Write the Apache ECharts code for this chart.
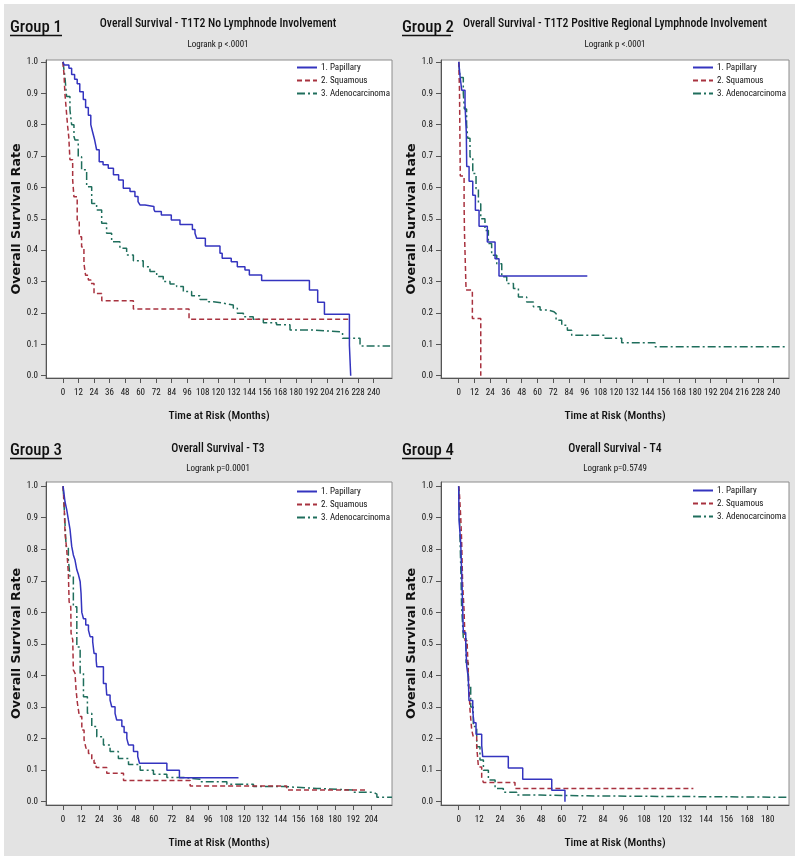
<!DOCTYPE html>
<html><head><meta charset="utf-8">
<script src="https://cdn.jsdelivr.net/npm/echarts@6/dist/echarts.min.js"></script>
<style>html,body{margin:0;padding:0;background:#fff}#c{width:800px;height:862px}</style>
</head><body><div id="c"></div>
<script>
// ---------------- DATA ----------------
const seriesNames = ['1. Papillary', '2. Squamous', '3. Adenocarcinoma'];
const groupLabels = ['Group 1', 'Group 2', 'Group 3', 'Group 4'];
const titles = [
  'Overall Survival - T1T2 No Lymphnode Involvement',
  'Overall Survival - T1T2 Positive Regional Lymphnode Involvement',
  'Overall Survival - T3',
  'Overall Survival - T4'
];
const subtitles = ['Logrank p <.0001', 'Logrank p <.0001', 'Logrank p=0.0001', 'Logrank p=0.5749'];
const xAxisTitle = 'Time at Risk (Months)';
const yAxisTitle = 'Overall Survival Rate';

const xTicks1 = [0,12,24,36,48,60,72,84,96,108,120,132,144,156,168,180,192,204,216,228,240];
const xTicks2 = [0,12,24,36,48,60,72,84,96,108,120,132,144,156,168,180,192,204,216,228,240];
const xTicks3 = [0,12,24,36,48,60,72,84,96,108,120,132,144,156,168,180,192,204];
const xTicks4 = [0,12,24,36,48,60,72,84,96,108,120,132,144,156,168,180];
const yTicks = [0.0,0.1,0.2,0.3,0.4,0.5,0.6,0.7,0.8,0.9,1.0];

// Kaplan-Meier steps: [months, survival]
const g1Papillary = [[0,1.0],[1,0.99],[4.6,0.98],[6.7,0.96],[9,0.945],[11,0.93],[13,0.905],[15.7,0.88],[17.5,0.855],[19.6,0.83],[21.5,0.8],[23,0.775],[24.5,0.751],[26,0.72],[28,0.682],[31,0.672],[35,0.661],[39,0.64],[43,0.624],[46.6,0.597],[51.8,0.587],[55.6,0.571],[58,0.555],[59.5,0.544],[63.4,0.539],[70.3,0.53],[71,0.523],[76,0.512],[83.7,0.496],[90.4,0.482],[100,0.466],[102,0.454],[103.3,0.438],[110,0.413],[121.3,0.39],[123,0.374],[130,0.363],[134.7,0.347],[140.6,0.337],[144,0.321],[153.5,0.303],[190.4,0.273],[196.8,0.234],[202,0.196],[221.3,0.096],[222.3,0.0]];
const g1Squamous = [[0,1.0],[0.8,0.96],[1.5,0.9],[2.5,0.85],[3.5,0.8],[4.5,0.76],[5.4,0.688],[7.5,0.624],[8.5,0.57],[11,0.496],[12.6,0.443],[14.4,0.41],[16.2,0.358],[17.5,0.32],[19.6,0.305],[21.6,0.294],[24,0.262],[30,0.239],[54.4,0.2125],[97.4,0.18],[221,0.18]];
const g1Adeno = [[0,1.0],[1.5,0.953],[2.8,0.89],[5.4,0.847],[6.7,0.8],[8.5,0.762],[9.3,0.751],[11.8,0.698],[14.4,0.656],[18.3,0.602],[22.2,0.549],[26,0.528],[29.9,0.486],[33.7,0.454],[37.6,0.427],[44,0.406],[49.2,0.385],[54.4,0.366],[62,0.347],[67.2,0.332],[72.4,0.316],[77.5,0.3],[82.7,0.292],[87.8,0.284],[93,0.268],[99.4,0.255],[105.9,0.243],[112.3,0.236],[116.2,0.231],[123.9,0.225],[131.6,0.215],[134.7,0.199],[139.4,0.188],[147,0.18],[154.8,0.169],[165,0.162],[175.4,0.146],[192,0.14],[214,0.137],[216,0.119],[229.5,0.095],[252.7,0.095]];

const g2Papillary = [[0,1.0],[1,0.955],[2.3,0.91],[4.8,0.865],[5.3,0.818],[5.8,0.773],[6.1,0.667],[7.9,0.62],[10.7,0.575],[12.7,0.527],[15.5,0.476],[21.8,0.426],[27.7,0.373],[30.7,0.318],[98,0.318]];
const g2Squamous = [[0,1.0],[0.6,0.909],[0.8,0.818],[1.0,0.727],[1.2,0.636],[4.1,0.545],[4.4,0.455],[5.6,0.273],[10.4,0.182],[16.8,0.0]];
const g2Adeno = [[0,1.0],[1,0.95],[3.5,0.9],[4.3,0.85],[6,0.8],[6.9,0.757],[8.6,0.697],[10.7,0.644],[13.2,0.596],[15,0.548],[16.8,0.5],[20,0.463],[22.6,0.421],[25.1,0.384],[29,0.357],[32.8,0.315],[36.6,0.294],[41.7,0.278],[45.5,0.251],[51.8,0.235],[56.9,0.22],[62,0.209],[68.3,0.204],[72.6,0.198],[74.2,0.177],[78.5,0.161],[82.8,0.145],[86.1,0.129],[111.5,0.119],[124.2,0.105],[149.6,0.092],[249.9,0.092]];

const g3Papillary = [[0,1.0],[1.3,0.95],[2.4,0.926],[3.5,0.894],[4.6,0.863],[5.7,0.81],[6.8,0.782],[7.9,0.766],[9.1,0.735],[10.2,0.719],[11.3,0.698],[11.9,0.66],[12.4,0.6],[13.5,0.58],[15,0.56],[16.8,0.544],[17.9,0.523],[19.6,0.507],[20.5,0.47],[21.9,0.449],[22.3,0.428],[26.7,0.375],[28.5,0.365],[28.9,0.338],[31.1,0.322],[32.2,0.301],[34.4,0.28],[35.5,0.259],[38.9,0.238],[40.4,0.219],[42.2,0.2],[43.3,0.18],[46.6,0.159],[49.4,0.143],[50.6,0.122],[68.7,0.1],[77,0.076],[116.1,0.076]];
const g3Squamous = [[0,1.0],[0.8,0.93],[1.3,0.85],[2.4,0.8],[3.5,0.724],[4,0.634],[5.1,0.618],[5.3,0.534],[6.4,0.513],[6.8,0.418],[7.9,0.407],[8.6,0.354],[9.5,0.312],[10.8,0.27],[12.4,0.227],[13.9,0.196],[15.2,0.169],[16.8,0.153],[19,0.132],[20.5,0.122],[21.9,0.108],[28.9,0.09],[40,0.067],[84.1,0.05],[148,0.037],[201,0.037]];
const g3Adeno = [[0,1.0],[1.3,0.88],[2,0.81],[3.5,0.766],[4.6,0.714],[6.8,0.618],[9.1,0.49],[11.3,0.407],[13.5,0.333],[16.1,0.28],[19,0.238],[22.3,0.206],[26.7,0.18],[31.1,0.159],[36.6,0.137],[43.3,0.118],[51,0.1],[59.8,0.087],[68.7,0.077],[79.7,0.071],[90.7,0.063],[108.4,0.055],[126,0.048],[145.9,0.042],[168,0.037],[192.3,0.03],[205.5,0.024],[207.7,0.014],[217.7,0.014]];

const g4Papillary = [[0,1.0],[0.2,0.893],[1.2,0.82],[1.6,0.75],[2.0,0.68],[2.7,0.536],[4.1,0.5],[4.7,0.429],[5.6,0.393],[6,0.321],[8.2,0.286],[8.9,0.25],[10.1,0.214],[13.4,0.179],[14,0.143],[28.9,0.107],[37.3,0.071],[54.2,0.036],[61.9,0.0]];
const g4Squamous = [[0,1.0],[0.5,0.97],[1.2,0.9],[1.7,0.83],[2.3,0.69],[3.1,0.61],[3.7,0.51],[5,0.49],[5.6,0.41],[6.6,0.29],[7.6,0.227],[8.5,0.206],[10.5,0.174],[11.5,0.11],[13.4,0.076],[14.4,0.061],[32.8,0.042],[136.7,0.042]];
const g4Adeno = [[0,1.0],[0.5,0.9],[1.4,0.7],[1.7,0.62],[2.7,0.52],[4.3,0.44],[5.6,0.365],[7,0.3],[8.5,0.238],[10.5,0.174],[12.4,0.132],[14.4,0.1],[17.3,0.069],[21.2,0.042],[26,0.03],[33.8,0.021],[47.4,0.018],[82.3,0.016],[140.6,0.014],[191,0.014]];

// ---------------- FONTS ----------------
const NARROW = '"Roboto Condensed","DejaVu Sans Condensed",sans-serif';
const BOLDFAM = '"DejaVu Sans",sans-serif';
const W = 500;
const cv = document.createElement('canvas').getContext('2d');
function textW(text, font) { cv.font = font; return cv.measureText(text).width; }
function fit(text, weight, fam, target) { return Math.round(1000 * target / textW(text, weight + ' 100px ' + fam)) / 10; }
// graphic texts: size chosen by glyph height, horizontally squeezed to the reference width
const GFONT = { group: W + ' 17px ' + NARROW, title: W + ' 13px ' + NARROW, sub: 'normal 9.5px ' + NARROW };
const SCALE = {
  group: 52 / textW('Group 1', GFONT.group),
  title: (235 / textW(titles[0], GFONT.title) + 306 / textW(titles[1], GFONT.title)) / 2,
  sub: 61 / textW(subtitles[0], GFONT.sub)
};
const FS = { legend: 9, xname: 11.5, tick: 9, yname: fit(yAxisTitle, 'bold', BOLDFAM, 151) };

// ---------------- LAYOUT / STYLE ----------------
const panels = [
  {grid:{left:46, top:60, width:346, height:318}, x:[-13.1,254.2], y:[-0.0073,1.006], ticks:xTicks1, data:[g1Papillary,g1Squamous,g1Adeno],
   gl:{x:10,y:28,u:[10,62,35.5]}, tx:218, ty:24, sy:45, lg:{left:296, top:63}},
  {grid:{left:441, top:60, width:348, height:318}, x:[-13.5,251.7], y:[-0.0073,1.006], ticks:xTicks2, data:[g2Papillary,g2Squamous,g2Adeno],
   gl:{x:402,y:28,u:[402,451,35.5]}, tx:615, ty:24, sy:45, lg:{left:692, top:63}},
  {grid:{left:46, top:482, width:346, height:323}, x:[-11.3,217.7], y:[-0.0105,1.0133], ticks:xTicks3, data:[g3Papillary,g3Squamous,g3Adeno],
   gl:{x:10,y:451,u:[10,62,458.5]}, tx:218, ty:449, sy:469, lg:{left:296, top:487}},
  {grid:{left:441, top:482, width:348, height:323}, x:[-10.3,192.4], y:[-0.0105,1.0133], ticks:xTicks4, data:[g4Papillary,g4Squamous,g4Adeno],
   gl:{x:402,y:451,u:[402,451,458.5]}, tx:615, ty:449, sy:469, lg:{left:692, top:486}}
];
const colors = ['#3434bf', '#a8323f', '#1f6e5c'];
const dashes = ['solid', [5,3], [8,3,2,3]];

const option = {
  animation: false,
  backgroundColor: '#fff',
  grid: [], xAxis: [], yAxis: [], series: [], legend: [],
  graphic: [{type:'rect', z:-10, silent:true, shape:{x:4, y:4, width:791, height:852}, style:{fill:'#e3e3e3'}}]
};

panels.forEach((p, i) => {
  option.grid.push(Object.assign({show:true, backgroundColor:'#fff', borderColor:'#8c8c8c', borderWidth:1}, p.grid));
  option.xAxis.push({
    gridIndex:i, type:'value', min:p.x[0], max:p.x[1],
    axisLine:{show:true, onZero:false, lineStyle:{color:'#555', width:1}},
    axisTick:{show:true, customValues:p.ticks, length:5, lineStyle:{color:'#555'}},
    axisLabel:{customValues:p.ticks, fontFamily:NARROW, fontSize:FS.tick, color:'#111', margin:10},
    splitLine:{show:false},
    name:xAxisTitle, nameLocation:'middle', nameGap:32,
    nameTextStyle:{fontFamily:NARROW, fontWeight:W, fontSize:FS.xname, color:'#111'}
  });
  option.yAxis.push({
    gridIndex:i, type:'value', min:p.y[0], max:p.y[1],
    axisLine:{show:true, onZero:false, lineStyle:{color:'#555', width:1}},
    axisTick:{show:true, customValues:yTicks, length:5, lineStyle:{color:'#555'}},
    axisLabel:{customValues:yTicks, formatter:v => v.toFixed(1), fontFamily:NARROW, fontSize:FS.tick, color:'#111', margin:8},
    splitLine:{show:false},
    name:yAxisTitle, nameLocation:'middle', nameGap:22,
    nameTextStyle:{fontFamily:BOLDFAM, fontWeight:'bold', fontSize:FS.yname, color:'#111'}
  });
  p.data.forEach((d, k) => {
    option.series.push({
      type:'line', name:seriesNames[k], xAxisIndex:i, yAxisIndex:i, data:d, step:'end',
      symbol:'none', silent:true, z:3-k,
      lineStyle:{color:colors[k], width:1.5, type:dashes[k]}, itemStyle:{color:colors[k]}
    });
  });
  option.legend.push({
    left:p.lg.left, top:p.lg.top, orient:'vertical', padding:0, itemGap:4, itemWidth:20, itemHeight:11,
    selectedMode:false, data:seriesNames, itemStyle:{opacity:0},
    textStyle:{fontFamily:NARROW, fontSize:FS.legend, color:'#111', padding:[0,0,0,-1]}
  });
  option.graphic.push(
    {type:'text', silent:true, x:p.gl.x, y:p.gl.y, scaleX:SCALE.group, style:{x:0, y:0, text:groupLabels[i], align:'left', verticalAlign:'middle', font:GFONT.group, fill:'#111'}},
    {type:'line', silent:true, shape:{x1:p.gl.u[0], y1:p.gl.u[2], x2:p.gl.u[1], y2:p.gl.u[2]}, style:{stroke:'#111', lineWidth:1.6}},
    {type:'text', silent:true, x:p.tx, y:p.ty, scaleX:SCALE.title, style:{x:0, y:0, text:titles[i], align:'center', verticalAlign:'middle', font:GFONT.title, fill:'#111'}},
    {type:'text', silent:true, x:p.tx, y:p.sy, scaleX:SCALE.sub, style:{x:0, y:0, text:subtitles[i], align:'center', verticalAlign:'middle', font:GFONT.sub, fill:'#111'}}
  );
});

const chart = echarts.init(document.getElementById('c'), null, {renderer:'canvas'});
chart.setOption(option);
</script>
</body></html>
